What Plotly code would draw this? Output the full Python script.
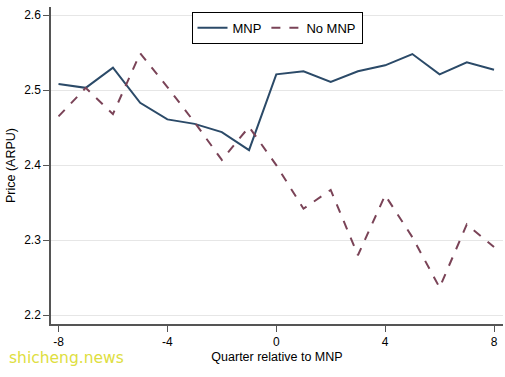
import plotly.graph_objects as go

quarters = list(range(-8, 9))
mnp = [2.508, 2.503, 2.530, 2.483, 2.461, 2.455, 2.444, 2.420, 2.521, 2.525,
       2.511, 2.525, 2.533, 2.548, 2.521, 2.537, 2.527]
no_mnp = [2.465, 2.503, 2.468, 2.549, 2.504, 2.457, 2.407, 2.451, 2.400, 2.342,
          2.367, 2.280, 2.360, 2.304, 2.237, 2.321, 2.291]
x_ticks = [-8, -4, 0, 4, 8]
y_ticks = [2.2, 2.3, 2.4, 2.5, 2.6]

fig = go.Figure()
fig.add_trace(go.Scatter(x=quarters, y=mnp, mode="lines", name="MNP",
                         line=dict(color="#2b4a68", width=2)))
fig.add_trace(go.Scatter(x=quarters, y=no_mnp, mode="lines", name="No MNP",
                         line=dict(color="#7a4357", width=2, dash="dash")))

font = "Liberation Sans, Arial, sans-serif"
fig.update_layout(
    width=505, height=377,
    margin=dict(l=51, r=2, t=7, b=53),
    paper_bgcolor="white", plot_bgcolor="white",
    font=dict(family=font, size=12, color="black"),
    legend=dict(orientation="h", x=0.5, xanchor="center", y=0.985, yanchor="top",
                bordercolor="black", borderwidth=1, bgcolor="white",
                font=dict(size=13), tracegroupgap=0, itemwidth=30),
    xaxis=dict(range=[-8.276, 8.33], tickvals=x_ticks, ticktext=[str(v) for v in x_ticks],
               showgrid=False, zeroline=False, showline=True, linecolor="#555555", linewidth=1.5,
               ticks="outside", ticklen=6, tickcolor="#555555", tickfont=dict(size=12),
               automargin=False,
               title=dict(text="Quarter relative to MNP", font=dict(size=12.5), standoff=4)),
    yaxis=dict(range=[2.1884, 2.6107], tickvals=y_ticks, ticktext=[f"{v:.1f}" for v in y_ticks],
               showgrid=True, gridcolor="#e6e6e6", gridwidth=1, zeroline=False,
               showline=True, linecolor="#555555", linewidth=1.5,
               ticks="outside", ticklen=6, tickcolor="#555555", tickfont=dict(size=12),
               automargin=False,
               title=dict(text="Price (ARPU)", font=dict(size=12.5), standoff=6)),
    showlegend=True,
)
fig.add_annotation(text="shicheng.news", xref="paper", yref="paper", x=-0.097, y=-0.107,
                   xanchor="left", yanchor="middle", showarrow=False,
                   font=dict(family="DejaVu Sans, sans-serif", size=15.5, color="#dede40"))
fig.write_html("out.html", config={"displayModeBar": False},
               post_script="document.body.style.margin='0';")
